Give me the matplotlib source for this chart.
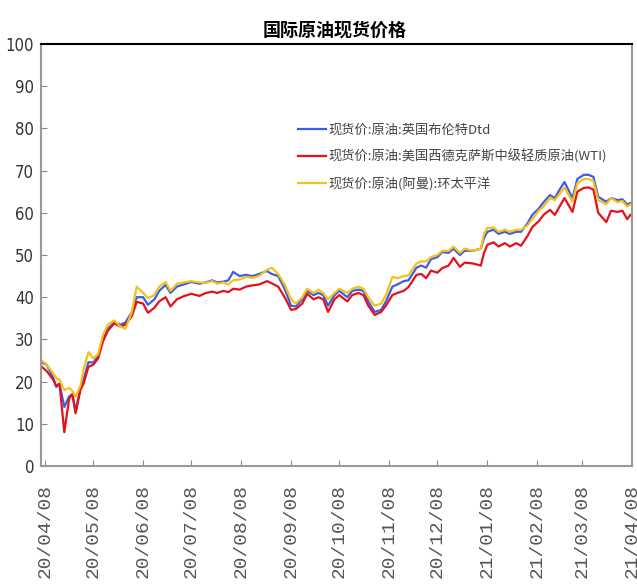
import pandas as pd
import matplotlib
matplotlib.use("Agg")
import matplotlib.pyplot as plt
import matplotlib.dates as mdates

# ─── Données ───────────────────────────────────────────────────────────────────

dates = ["2020-04-06", "2020-04-09", "2020-04-13", "2020-04-15", "2020-04-17", "2020-04-20",
         "2020-04-23", "2020-04-25", "2020-04-27", "2020-04-30", "2020-05-02", "2020-05-05",
         "2020-05-08", "2020-05-11", "2020-05-14", "2020-05-17", "2020-05-21", "2020-05-25",
         "2020-05-28", "2020-06-01", "2020-06-04", "2020-06-08", "2020-06-11", "2020-06-15",
         "2020-06-18", "2020-06-22", "2020-06-25", "2020-06-29", "2020-07-03", "2020-07-08",
         "2020-07-13", "2020-07-17", "2020-07-21", "2020-07-24", "2020-07-28", "2020-07-31",
         "2020-08-03", "2020-08-07", "2020-08-11", "2020-08-15", "2020-08-19", "2020-08-24",
         "2020-08-27", "2020-08-31", "2020-09-04", "2020-09-08", "2020-09-11", "2020-09-15",
         "2020-09-18", "2020-09-22", "2020-09-25", "2020-09-28", "2020-10-01", "2020-10-05",
         "2020-10-08", "2020-10-13", "2020-10-16", "2020-10-20", "2020-10-23", "2020-10-26",
         "2020-10-30", "2020-11-03", "2020-11-06", "2020-11-10", "2020-11-13", "2020-11-17",
         "2020-11-20", "2020-11-25", "2020-11-28", "2020-12-01", "2020-12-04", "2020-12-08",
         "2020-12-11", "2020-12-15", "2020-12-18", "2020-12-22", "2020-12-25", "2020-12-30",
         "2021-01-04", "2021-01-06", "2021-01-08", "2021-01-12", "2021-01-15", "2021-01-19",
         "2021-01-22", "2021-01-26", "2021-01-29", "2021-02-02", "2021-02-05", "2021-02-09",
         "2021-02-12", "2021-02-16", "2021-02-19", "2021-02-22", "2021-02-25", "2021-03-02",
         "2021-03-05", "2021-03-09", "2021-03-12", "2021-03-15", "2021-03-18", "2021-03-23",
         "2021-03-26", "2021-03-30", "2021-04-02", "2021-04-05", "2021-04-07"]

brent = [24.5, 24.0, 21.0, 18.7, 19.5, 14.0, 16.5, 17.0, 13.0, 18.5, 20.5, 24.6,
         24.5, 26.0, 30.0, 32.5, 34.0, 33.5, 34.0, 36.5, 40.0, 40.0, 38.2, 39.5,
         41.5, 42.9, 41.0, 42.5, 43.0, 43.6, 43.2, 43.5, 44.0, 43.5, 43.7, 44.0,
         46.0, 45.0, 45.3, 45.0, 45.5, 46.2, 45.5, 45.0, 42.0, 38.0, 37.8, 39.5,
         41.5, 40.5, 41.0, 40.5, 38.0, 40.5, 41.5, 40.0, 41.5, 41.8, 41.5, 39.0,
         36.5, 37.0, 39.0, 42.5, 43.0, 43.8, 44.0, 47.0, 47.5, 47.0, 49.0, 49.5,
         50.7, 50.5, 51.5, 50.0, 51.0, 51.0, 51.5, 54.0, 55.5, 56.0, 55.0, 55.5,
         55.0, 55.5, 55.5, 57.5, 59.5, 61.0, 62.5, 64.2, 63.5, 65.5, 67.3, 63.5,
         68.0, 69.0, 69.0, 68.5, 63.8, 62.6, 63.5, 63.0, 63.2, 62.0, 62.3]

wti = [23.5, 22.5, 20.5, 19.0, 19.5, 8.0, 16.0, 17.0, 12.5, 18.0, 19.6, 23.5,
       24.0, 25.5, 29.5, 32.0, 33.8, 33.0, 33.5, 35.5, 38.9, 38.5, 36.3, 37.5,
       39.0, 40.0, 37.8, 39.5, 40.2, 40.8, 40.3, 41.0, 41.3, 41.0, 41.5, 41.2,
       42.0, 41.8, 42.5, 42.8, 43.0, 43.8, 43.3, 42.5, 40.0, 37.0, 37.2, 38.5,
       40.8, 39.5, 40.0, 39.5, 36.5, 39.5, 40.5, 39.0, 40.5, 41.0, 40.5, 38.0,
       35.8, 36.5, 38.0, 40.5, 41.0, 41.5, 42.4, 45.3, 45.5, 44.5, 46.3, 45.8,
       46.9, 47.5, 49.3, 47.2, 48.2, 48.0, 47.5, 50.5, 52.4, 53.0, 52.0, 52.8,
       52.0, 52.8, 52.2, 54.5, 56.6, 58.0, 59.5, 60.7, 59.5, 61.5, 63.5, 60.2,
       65.0, 65.9, 66.0, 65.5, 60.0, 57.8, 60.5, 60.2, 60.5, 58.5, 59.5]

dubai = [25.0, 24.0, 22.0, 20.8, 20.5, 18.0, 18.5, 17.8, 16.4, 19.0, 23.0, 27.0,
         25.5, 26.5, 31.0, 33.5, 34.5, 33.0, 32.5, 36.5, 42.5, 41.0, 39.8, 40.5,
         42.5, 43.6, 41.5, 43.2, 43.5, 43.8, 43.5, 43.4, 43.8, 43.2, 43.5, 43.0,
         44.0, 44.2, 44.8, 44.6, 45.0, 46.5, 47.0, 45.5, 43.0, 39.5, 38.5, 40.0,
         42.0, 41.0, 41.8, 41.0, 39.5, 41.0, 42.0, 41.0, 42.0, 42.5, 42.0, 40.0,
         38.0, 38.5, 40.5, 44.8, 44.5, 45.0, 45.2, 48.0, 48.5, 48.5, 49.5, 50.0,
         51.0, 51.0, 52.0, 50.5, 51.5, 51.0, 51.5, 55.0, 56.4, 56.5, 55.5, 56.0,
         55.5, 56.0, 56.0, 57.0, 58.5, 60.5, 61.5, 63.5, 63.0, 64.5, 66.0, 62.6,
         67.0, 68.0, 68.0, 67.5, 63.0, 62.0, 63.5, 62.5, 62.8, 61.5, 62.0]

labels = ["现货价:原油:英国布伦特Dtd",
          "现货价:原油:美国西德克萨斯中级轻质原油(WTI)",
          "现货价:原油(阿曼):环太平洋"]

tick_dates = ["2020-04-08", "2020-05-08", "2020-06-08", "2020-07-08", "2020-08-08",
              "2020-09-08", "2020-10-08", "2020-11-08", "2020-12-08", "2021-01-08",
              "2021-02-08", "2021-03-08", "2021-04-08"]

COLORS = ["#3c5ee6", "#e3121b", "#f3c21a"]

df = pd.DataFrame({"Date": pd.to_datetime(dates), "Brent": brent, "WTI": wti, "Dubai": dubai})

# ─── Graphique ─────────────────────────────────────────────────────────────────

CJK = ["Noto Sans CJK SC", "DejaVu Sans"]

fig = plt.figure(figsize=(6.37, 5.88), dpi=100)
ax = fig.add_axes([41 / 637, 1 - 466 / 588, 591 / 637, 422 / 588])

for col, color, lab in zip(["Brent", "WTI", "Dubai"], COLORS, labels):
    ax.plot(df["Date"], df[col], color=color, linewidth=1.6, label=lab)

ax.set_ylim(0, 100)
ax.set_yticks(range(0, 101, 10))
ax.set_xlim(pd.Timestamp("2020-04-05 12:00"), pd.Timestamp("2021-04-08"))
ax.set_xticks(pd.to_datetime(tick_dates))
ax.xaxis.set_major_formatter(mdates.DateFormatter("%y/%m/%d"))

ax.tick_params(axis="both", direction="in", length=4, color="#888888")
ax.tick_params(axis="y", pad=5)
ax.tick_params(axis="x", pad=13)
for t in ax.get_yticklabels():
    t.set_fontfamily(["DejaVu Sans"])
    t.set_fontstretch("condensed")
    t.set_fontsize(12)
    t.set_color("#333333")
for t in ax.get_xticklabels():
    t.set_fontfamily(["Liberation Mono", "DejaVu Sans Mono"])
    t.set_fontsize(14)
    t.set_rotation(90)
    t.set_color("#555555")
    t.set_va("top")

for side in ["left", "right", "bottom"]:
    ax.spines[side].set_color("#999999")
    ax.spines[side].set_linewidth(1.5)
ax.spines["top"].set_color("black")
ax.spines["top"].set_linewidth(1.5)

fig.text(0.526, 1 - 30 / 588, "国际原油现货价格", ha="center", va="center",
         fontsize=13, fontweight="bold", family=CJK)

leg = ax.legend(loc="upper left", bbox_to_anchor=(0.415, 0.84), frameon=False,
                prop={"family": CJK, "size": 9.5}, handlelength=2.1,
                handletextpad=0.2, labelspacing=1.0)
for t in leg.get_texts():
    t.set_color("#444444")

fig.savefig("out.png", dpi=100)
